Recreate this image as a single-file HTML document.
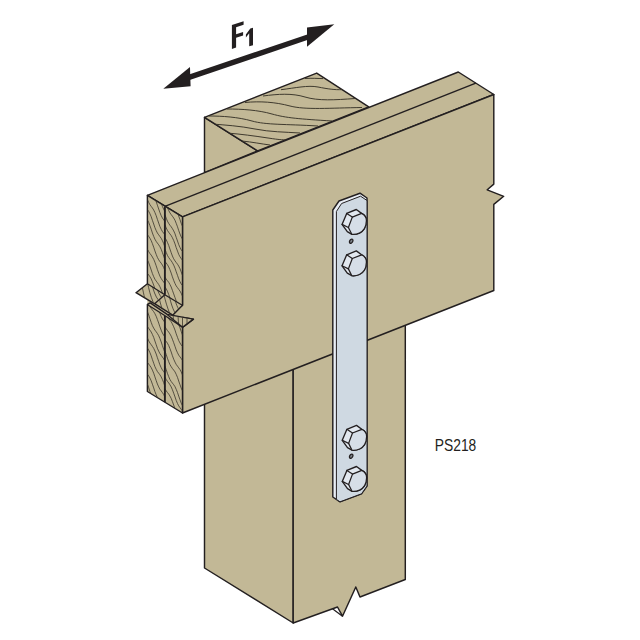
<!DOCTYPE html>
<html>
<head>
<meta charset="utf-8">
<title>PS218</title>
<style>
html,body{margin:0;padding:0;background:#fff;}
body{width:640px;height:640px;overflow:hidden;font-family:"Liberation Sans",sans-serif;}
svg{display:block;}
</style>
</head>
<body>
<svg width="640" height="640" viewBox="0 0 640 640">
<defs>
  <clipPath id="cpTop"><polygon points="204.5,117.3 316.7,73.1 368.7,106.8 257.6,150.9"/></clipPath>
  <clipPath id="cpU"><polygon points="147.4,195.3 182.5,216.9 182.5,305.3 164.8,294.7 147.4,283.8"/></clipPath>
  <clipPath id="cpL"><polygon points="148,305 165.5,316 182.5,327.3 182.5,413 147.4,391.5 147.4,304.5"/></clipPath>
  <clipPath id="cpFA"><polygon points="147.3,283.8 136,292.7 153,302.9 164.8,294.7"/></clipPath>
  <clipPath id="cpFB"><polygon points="164.8,294.7 154.6,303.7 172.7,315.2 182.3,305.3"/></clipPath>
  <clipPath id="cpFC"><polygon points="167.2,314.6 193.4,319.1 182.5,327.3"/></clipPath>
  <g id="bolt">
    <path d="M-2,-15.1 L3.3,-11.2 C6.5,-9.5 8.3,-6.8 8.1,-3.85 C8,-1 7.6,1.8 6.1,4 C4.8,6 3.2,7.6 1.1,8.5 C-1.2,9.5 -4,10 -6.5,9.7 L-11,7.1 L-16.25,-0.2 L-11.6,-11.2 Z" fill="#e2e8ef" stroke="#231f20" stroke-width="1.35" stroke-linejoin="round"/>
    <path d="M-6,-7.5 L3.3,-11.2 C6.5,-9.5 8.3,-6.8 8.1,-3.85 C8,-1 7.6,1.8 6.1,4 C4.8,6 3.2,7.6 1.1,8.5 C-1.2,9.5 -4,10 -6.5,9.7 L-9.9,2.9 Z" fill="#d6dee7" stroke="#231f20" stroke-width="1.25" stroke-linejoin="round"/>
    <path d="M-11.6,-11.2 L-6,-7.5 M-16.25,-0.2 L-9.9,2.9" fill="none" stroke="#231f20" stroke-width="1.2" stroke-linecap="round"/>
  </g>
  <g id="hole">
    <ellipse cx="0" cy="0" rx="1.5" ry="2.3" transform="rotate(32)" fill="#7d838a" stroke="#231f20" stroke-width="1.3"/>
  </g>
</defs>
<rect width="640" height="640" fill="#ffffff"/>

<!-- POST upper (behind beam) -->
<g stroke="#231f20" stroke-width="1.45" stroke-linejoin="round" fill="#c2b896">
  <polygon points="204.5,117.3 257.6,150.9 204.5,172.6"/>
  <polygon points="204.5,117.3 316.7,73.1 368.7,106.8 257.6,150.9"/>
</g>
<g clip-path="url(#cpTop)" fill="none" stroke="#3f3a2e" stroke-width="1">
  <path d="M305,78.5 C312,78 318,78.5 323,78.6"/>
  <path d="M281,89.7 C295,88 308,85 318,87 S335,90 342,89.6"/>
  <path d="M263,96 C278,94 292,93 305,97 S335,100 355,98.5"/>
  <path d="M245,102.5 C260,101 275,102 290,106 S330,108 362,107.5"/>
  <path d="M227,109 C242,109 258,110 272,114 S300,119 332,121"/>
  <path d="M209,116 C222,116 238,117 252,121 S285,124 318,126"/>
  <path d="M212,124 C225,125 240,126 255,129 S285,132 300,133"/>
  <path d="M227,133 C240,134 255,136 268,138 S280,139.5 288,140"/>
  <path d="M242,141 C252,142 262,144 270,145"/>
</g>

<!-- POST lower -->
<g stroke="#231f20" stroke-width="1.45" stroke-linejoin="round" fill="#c2b896">
  <polygon points="204.5,400 293.2,360 293.2,623 204.5,568"/>
  <polygon points="293.2,360 405.3,320 405.3,579.5 360,597 355.8,587 342.5,616.2 337.5,607 293.2,623"/>
</g>

<polyline points="332.5,608.8 342.5,616.2" fill="none" stroke="#231f20" stroke-width="1.3"/>
<!-- BEAM -->
<g stroke="#231f20" stroke-width="1.45" stroke-linejoin="round" fill="#c2b896">
  <polygon points="147.4,195.3 458.3,72 493.8,94.5 182.5,216.9"/>
  <polygon points="182.5,216.9 493.8,94.5 493.8,184.1 487.2,189.8 503.7,196.3 493.8,204.4 493.8,290.5 182.5,413 182.5,327.3 193.4,319.1 167.2,314.9 172.7,315.2 182.5,305.3"/>
  <line x1="164.9" y1="206.4" x2="475.8" y2="83.2"/>
</g>
<!-- end grain faces -->
<polygon points="147.4,283.8 182.5,305.3 182.5,327.3 147.4,304.5" fill="#c2b896"/>
<g stroke="#231f20" stroke-width="1.45" stroke-linejoin="round" fill="#c2b896">
  <polygon points="147.4,304.5 150.2,302.9 167.2,314.4 193.4,319.1 182.5,327.3 182.5,413 147.4,391.5"/>
  <polygon points="147.4,195.3 182.5,216.9 182.5,305.3 172.7,315.2 154.6,303.7 153,302.9 136,292.7 147.4,283.8"/>
</g>
<g clip-path="url(#cpU)" fill="none" stroke="#3a352b" stroke-width="0.8">
  <path d="M147.4,116.5 L148.7,118.5 L149.9,120.1 L151.2,121.9 L152.4,124.1 L153.7,126.9 L154.9,130.3 L156.2,134.1 L157.4,137.7 L158.7,140.9 L159.9,143.4 L161.2,145.3 L162.4,147.0 L163.7,148.7 L164.9,150.9"/>
  <path d="M164.9,157.0 L166.2,159.9 L167.4,162.2 L168.7,164.0 L169.9,165.6 L171.2,167.4 L172.4,169.7 L173.7,172.7 L175.0,176.3 L176.2,179.9 L177.5,183.4 L178.7,186.3 L180.0,188.6 L181.2,190.4 L182.5,192.0"/>
  <path d="M147.4,125.4 L148.7,127.2 L149.9,129.5 L151.2,132.4 L152.4,135.9 L153.7,139.6 L154.9,143.2 L156.2,146.3 L157.4,148.7 L158.7,150.6 L159.9,152.3 L161.2,154.1 L162.4,156.3 L163.7,159.3 L164.9,162.7"/>
  <path d="M164.9,165.3 L166.2,167.0 L167.4,168.6 L168.7,170.5 L169.9,172.9 L171.2,176.0 L172.4,179.5 L173.7,183.2 L175.0,186.6 L176.2,189.5 L177.5,191.7 L178.7,193.4 L180.0,195.0 L181.2,196.8 L182.5,199.3"/>
  <path d="M147.4,138.7 L148.7,142.3 L149.9,145.4 L151.2,147.8 L152.4,149.7 L153.7,151.4 L154.9,153.2 L156.2,155.4 L157.4,158.4 L158.7,161.9 L159.9,165.6 L161.2,169.2 L162.4,172.3 L163.7,174.7 L164.9,176.6"/>
  <path d="M164.9,177.3 L166.2,178.9 L167.4,180.6 L168.7,182.8 L169.9,185.7 L171.2,189.1 L172.4,192.8 L173.7,196.4 L175.0,199.4 L176.2,201.8 L177.5,203.6 L178.7,205.2 L180.0,207.0 L181.2,209.2 L182.5,212.1"/>
  <path d="M147.4,150.0 L148.7,151.6 L149.9,153.4 L151.2,155.6 L152.4,158.4 L153.7,161.8 L154.9,165.6 L156.2,169.2 L157.4,172.4 L158.7,174.9 L159.9,176.8 L161.2,178.5 L162.4,180.2 L163.7,182.4 L164.9,185.3"/>
  <path d="M164.9,186.2 L166.2,189.6 L167.4,193.3 L168.7,196.8 L169.9,199.9 L171.2,202.4 L172.4,204.2 L173.7,205.8 L175.0,207.6 L176.2,209.7 L177.5,212.6 L178.7,216.0 L180.0,219.7 L181.2,223.3 L182.5,226.3"/>
  <path d="M147.4,159.4 L148.7,161.6 L149.9,164.4 L151.2,167.9 L152.4,171.6 L153.7,175.2 L154.9,178.4 L156.2,180.9 L157.4,182.8 L158.7,184.5 L159.9,186.2 L161.2,188.5 L162.4,191.3 L163.7,194.8 L164.9,198.5"/>
  <path d="M164.9,200.3 L166.2,204.0 L167.4,207.5 L168.7,210.5 L169.9,212.8 L171.2,214.6 L172.4,216.2 L173.7,218.0 L175.0,220.3 L176.2,223.3 L177.5,226.8 L178.7,230.5 L180.0,234.0 L181.2,236.9 L182.5,239.2"/>
  <path d="M147.4,172.4 L148.7,176.1 L149.9,179.6 L151.2,182.4 L152.4,184.6 L153.7,186.4 L154.9,188.0 L156.2,190.0 L157.4,192.5 L158.7,195.7 L159.9,199.3 L161.2,203.0 L162.4,206.4 L163.7,209.3 L164.9,211.5"/>
  <path d="M164.9,214.6 L166.2,218.1 L167.4,221.1 L168.7,223.4 L169.9,225.2 L171.2,226.8 L172.4,228.6 L173.7,230.9 L175.0,233.8 L176.2,237.3 L177.5,241.0 L178.7,244.5 L180.0,247.5 L181.2,249.8 L182.5,251.5"/>
  <path d="M147.4,185.7 L148.7,188.7 L149.9,191.1 L151.2,193.0 L152.4,194.6 L153.7,196.4 L154.9,198.7 L156.2,201.7 L157.4,205.2 L158.7,209.0 L159.9,212.5 L161.2,215.6 L162.4,218.0 L163.7,219.8 L164.9,221.5"/>
  <path d="M164.9,224.7 L166.2,227.9 L167.4,230.4 L168.7,232.3 L169.9,233.9 L171.2,235.6 L172.4,237.7 L173.7,240.5 L175.0,243.9 L176.2,247.6 L177.5,251.1 L178.7,254.3 L180.0,256.8 L181.2,258.6 L182.5,260.2"/>
  <path d="M147.4,199.6 L148.7,202.4 L149.9,204.6 L151.2,206.4 L152.4,208.0 L153.7,210.0 L154.9,212.5 L156.2,215.7 L157.4,219.4 L158.7,223.1 L159.9,226.5 L161.2,229.3 L162.4,231.5 L163.7,233.2 L164.9,234.9"/>
  <path d="M164.9,237.8 L166.2,239.7 L167.4,242.3 L168.7,245.4 L169.9,249.0 L171.2,252.7 L172.4,256.0 L173.7,258.8 L175.0,260.9 L176.2,262.5 L177.5,264.2 L178.7,266.1 L180.0,268.7 L181.2,271.9 L182.5,275.5"/>
  <path d="M147.4,209.6 L148.7,211.4 L149.9,213.7 L151.2,216.7 L152.4,220.3 L153.7,224.0 L154.9,227.6 L156.2,230.6 L157.4,233.0 L158.7,234.8 L159.9,236.5 L161.2,238.3 L162.4,240.6 L163.7,243.6 L164.9,247.1"/>
  <path d="M164.9,249.0 L166.2,252.4 L167.4,255.3 L168.7,257.5 L169.9,259.2 L171.2,260.8 L172.4,262.7 L173.7,265.1 L175.0,268.2 L176.2,271.7 L177.5,275.4 L178.7,278.8 L180.0,281.7 L181.2,283.9 L182.5,285.6"/>
  <path d="M147.4,219.9 L148.7,222.4 L149.9,225.6 L151.2,229.2 L152.4,233.0 L153.7,236.4 L154.9,239.2 L156.2,241.4 L157.4,243.1 L158.7,244.8 L159.9,246.7 L161.2,249.3 L162.4,252.5 L163.7,256.1 L164.9,259.8"/>
  <path d="M164.9,261.4 L166.2,263.0 L167.4,264.7 L168.7,266.9 L169.9,269.7 L171.2,273.1 L172.4,276.8 L173.7,280.4 L175.0,283.5 L176.2,285.9 L177.5,287.7 L178.7,289.3 L180.0,291.1 L181.2,293.3 L182.5,296.2"/>
  <path d="M147.4,234.7 L148.7,236.4 L149.9,238.2 L151.2,240.6 L152.4,243.6 L153.7,247.2 L154.9,250.9 L156.2,254.4 L157.4,257.4 L158.7,259.8 L159.9,261.6 L161.2,263.2 L162.4,265.1 L163.7,267.5 L164.9,270.5"/>
  <path d="M164.9,277.0 L166.2,279.1 L167.4,280.7 L168.7,282.3 L169.9,284.4 L171.2,287.0 L172.4,290.3 L173.7,293.9 L175.0,297.6 L176.2,300.8 L177.5,303.4 L178.7,305.4 L180.0,307.0 L181.2,308.7 L182.5,310.7"/>
  <path d="M147.4,249.2 L148.7,251.6 L149.9,253.5 L151.2,255.1 L152.4,257.0 L153.7,259.3 L154.9,262.2 L156.2,265.8 L157.4,269.5 L158.7,273.1 L159.9,276.1 L161.2,278.5 L162.4,280.4 L163.7,282.0 L164.9,283.8"/>
  <path d="M164.9,286.9 L166.2,288.8 L167.4,291.2 L168.7,294.4 L169.9,297.9 L171.2,301.6 L172.4,305.0 L173.7,307.8 L175.0,309.9 L176.2,311.6 L177.5,313.2 L178.7,315.1 L180.0,317.6 L181.2,320.8 L182.5,324.4"/>
  <path d="M147.4,259.9 L148.7,262.7 L149.9,266.2 L151.2,269.9 L152.4,273.5 L153.7,276.7 L154.9,279.2 L156.2,281.1 L157.4,282.7 L158.7,284.5 L159.9,286.7 L161.2,289.6 L162.4,293.1 L163.7,296.8 L164.9,300.4"/>
  <path d="M164.9,305.1 L166.2,307.2 L167.4,308.9 L168.7,310.5 L169.9,312.4 L171.2,315.0 L172.4,318.2 L173.7,321.9 L175.0,325.5 L176.2,328.8 L177.5,331.5 L178.7,333.5 L180.0,335.2 L181.2,336.8 L182.5,338.8"/>
  <path d="M147.4,273.3 L148.7,275.0 L149.9,276.7 L151.2,278.9 L152.4,281.7 L153.7,285.1 L154.9,288.8 L156.2,292.5 L157.4,295.7 L158.7,298.2 L159.9,300.2 L161.2,301.9 L162.4,303.6 L163.7,305.8 L164.9,308.6"/>
  <path d="M164.9,309.4 L166.2,312.4 L167.4,316.0 L168.7,319.6 L169.9,323.1 L171.2,326.0 L172.4,328.3 L173.7,330.0 L175.0,331.6 L176.2,333.4 L177.5,335.8 L178.7,338.9 L180.0,342.4 L181.2,346.1 L182.5,349.5"/>
  <path d="M147.4,285.4 L148.7,289.0 L149.9,292.0 L151.2,294.5 L152.4,296.3 L153.7,298.0 L154.9,299.8 L156.2,302.1 L157.4,305.0 L158.7,308.5 L159.9,312.3 L161.2,315.8 L162.4,318.9 L163.7,321.3 L164.9,323.2"/>
  <path d="M164.9,324.5 L166.2,327.0 L167.4,330.1 L168.7,333.6 L169.9,337.3 L171.2,340.7 L172.4,343.5 L173.7,345.7 L175.0,347.4 L176.2,349.0 L177.5,350.9 L178.7,353.4 L180.0,356.5 L181.2,360.1 L182.5,363.8"/>
  <path d="M147.4,296.6 L148.7,300.2 L149.9,303.9 L151.2,307.3 L152.4,310.2 L153.7,312.4 L154.9,314.1 L156.2,315.8 L157.4,317.7 L158.7,320.3 L159.9,323.4 L161.2,327.1 L162.4,330.8 L163.7,334.2 L164.9,337.1"/>
  <path d="M164.9,340.1 L166.2,342.1 L167.4,343.7 L168.7,345.3 L169.9,347.4 L171.2,350.2 L172.4,353.5 L173.7,357.2 L175.0,360.8 L176.2,364.0 L177.5,366.5 L178.7,368.4 L180.0,370.0 L181.2,371.7 L182.5,373.8"/>
</g>
<g clip-path="url(#cpL)" fill="none" stroke="#3a352b" stroke-width="0.8">
  <path d="M147.4,219.2 L148.7,221.2 L149.9,223.7 L151.2,226.9 L152.4,230.5 L153.7,234.3 L154.9,237.7 L156.2,240.5 L157.4,242.7 L158.7,244.4 L159.9,246.1 L161.2,248.0 L162.4,250.6 L163.7,253.8 L164.9,257.4"/>
  <path d="M164.9,261.8 L166.2,263.4 L167.4,265.2 L168.7,267.6 L169.9,270.6 L171.2,274.1 L172.4,277.8 L173.7,281.3 L175.0,284.2 L176.2,286.4 L177.5,288.2 L178.7,289.8 L180.0,291.6 L181.2,294.0 L182.5,297.0"/>
  <path d="M147.4,234.6 L148.7,236.2 L149.9,238.1 L151.2,240.7 L152.4,243.8 L153.7,247.4 L154.9,251.2 L156.2,254.6 L157.4,257.5 L158.7,259.7 L159.9,261.4 L161.2,263.1 L162.4,265.0 L163.7,267.5 L164.9,270.7"/>
  <path d="M164.9,271.1 L166.2,273.5 L167.4,276.5 L168.7,280.1 L169.9,283.8 L171.2,287.2 L172.4,290.1 L173.7,292.3 L175.0,294.0 L176.2,295.6 L177.5,297.4 L178.7,299.9 L180.0,303.0 L181.2,306.5 L182.5,310.2"/>
  <path d="M147.4,246.2 L148.7,248.6 L149.9,251.6 L151.2,255.1 L152.4,258.8 L153.7,262.4 L154.9,265.4 L156.2,267.8 L157.4,269.6 L158.7,271.3 L159.9,273.1 L161.2,275.4 L162.4,278.4 L163.7,282.0 L164.9,285.7"/>
  <path d="M164.9,288.8 L166.2,292.5 L167.4,295.7 L168.7,298.4 L169.9,300.5 L171.2,302.1 L172.4,303.7 L173.7,305.7 L175.0,308.4 L176.2,311.6 L177.5,315.3 L178.7,318.9 L180.0,322.2 L181.2,324.8 L182.5,326.8"/>
  <path d="M147.4,260.3 L148.7,262.1 L149.9,263.7 L151.2,265.7 L152.4,268.3 L153.7,271.5 L154.9,275.2 L156.2,278.9 L157.4,282.3 L158.7,285.1 L159.9,287.2 L161.2,288.9 L162.4,290.6 L163.7,292.6 L164.9,295.2"/>
  <path d="M164.9,295.8 L166.2,298.3 L167.4,301.4 L168.7,304.9 L169.9,308.6 L171.2,312.0 L172.4,314.8 L173.7,317.0 L175.0,318.7 L176.2,320.3 L177.5,322.2 L178.7,324.7 L180.0,327.8 L181.2,331.4 L182.5,335.1"/>
  <path d="M147.4,273.0 L148.7,275.9 L149.9,278.2 L151.2,280.0 L152.4,281.6 L153.7,283.5 L154.9,286.0 L156.2,289.1 L157.4,292.7 L158.7,296.5 L159.9,299.9 L161.2,302.8 L162.4,305.1 L163.7,306.8 L164.9,308.5"/>
  <path d="M164.9,310.9 L166.2,314.1 L167.4,316.6 L168.7,318.6 L169.9,320.2 L171.2,321.8 L172.4,324.0 L173.7,326.8 L175.0,330.1 L176.2,333.8 L177.5,337.4 L178.7,340.5 L180.0,343.0 L181.2,344.9 L182.5,346.5"/>
  <path d="M147.4,286.4 L148.7,289.5 L149.9,292.0 L151.2,293.9 L152.4,295.6 L153.7,297.3 L154.9,299.6 L156.2,302.5 L157.4,305.9 L158.7,309.6 L159.9,313.3 L161.2,316.4 L162.4,318.9 L163.7,320.8 L164.9,322.5"/>
  <path d="M164.9,326.4 L166.2,328.7 L167.4,330.5 L168.7,332.1 L169.9,333.9 L171.2,336.2 L172.4,339.2 L173.7,342.7 L175.0,346.4 L176.2,349.9 L177.5,352.8 L178.7,355.1 L180.0,356.9 L181.2,358.5 L182.5,360.3"/>
  <path d="M147.4,300.0 L148.7,303.4 L149.9,306.2 L151.2,308.4 L152.4,310.1 L153.7,311.7 L154.9,313.7 L156.2,316.3 L157.4,319.5 L158.7,323.1 L159.9,326.8 L161.2,330.2 L162.4,333.0 L163.7,335.2 L164.9,337.0"/>
  <path d="M164.9,339.9 L166.2,341.4 L167.4,343.2 L168.7,345.5 L169.9,348.5 L171.2,352.0 L172.4,355.7 L173.7,359.2 L175.0,362.1 L176.2,364.4 L177.5,366.2 L178.7,367.8 L180.0,369.6 L181.2,371.9 L182.5,375.0"/>
  <path d="M147.4,311.6 L148.7,315.0 L149.9,318.7 L151.2,322.4 L152.4,325.6 L153.7,328.1 L154.9,330.1 L156.2,331.8 L157.4,333.5 L158.7,335.7 L159.9,338.5 L161.2,341.9 L162.4,345.6 L163.7,349.3 L164.9,352.5"/>
  <path d="M164.9,351.0 L166.2,354.5 L167.4,358.2 L168.7,361.7 L169.9,364.5 L171.2,366.7 L172.4,368.5 L173.7,370.1 L175.0,371.9 L176.2,374.3 L177.5,377.4 L178.7,381.0 L180.0,384.7 L181.2,388.1 L182.5,390.9"/>
  <path d="M147.4,326.6 L148.7,328.4 L149.9,330.1 L151.2,332.0 L152.4,334.4 L153.7,337.4 L154.9,341.0 L156.2,344.7 L157.4,348.3 L158.7,351.2 L159.9,353.5 L161.2,355.3 L162.4,357.0 L163.7,358.8 L164.9,361.3"/>
  <path d="M164.9,366.0 L166.2,369.6 L167.4,373.3 L168.7,376.6 L169.9,379.4 L171.2,381.5 L172.4,383.1 L173.7,384.7 L175.0,386.7 L176.2,389.3 L177.5,392.5 L178.7,396.1 L180.0,399.8 L181.2,403.1 L182.5,405.8"/>
  <path d="M147.4,337.9 L148.7,340.8 L149.9,343.0 L151.2,344.7 L152.4,346.4 L153.7,348.3 L154.9,350.9 L156.2,354.0 L157.4,357.7 L158.7,361.4 L159.9,364.8 L161.2,367.7 L162.4,369.9 L163.7,371.6 L164.9,373.3"/>
  <path d="M164.9,377.0 L166.2,379.5 L167.4,381.3 L168.7,382.9 L169.9,384.7 L171.2,386.9 L172.4,389.7 L173.7,393.2 L175.0,396.9 L176.2,400.4 L177.5,403.5 L178.7,405.8 L180.0,407.7 L181.2,409.3 L182.5,411.0"/>
  <path d="M147.4,348.0 L148.7,350.0 L149.9,352.6 L151.2,355.8 L152.4,359.5 L153.7,363.2 L154.9,366.6 L156.2,369.3 L157.4,371.5 L158.7,373.2 L159.9,374.8 L161.2,376.9 L162.4,379.5 L163.7,382.7 L164.9,386.4"/>
  <path d="M164.9,388.6 L166.2,390.8 L167.4,392.5 L168.7,394.1 L169.9,396.0 L171.2,398.4 L172.4,401.5 L173.7,405.0 L175.0,408.7 L176.2,412.1 L177.5,415.0 L178.7,417.2 L180.0,418.9 L181.2,420.5 L182.5,422.4"/>
  <path d="M147.4,362.3 L148.7,364.1 L149.9,365.7 L151.2,367.6 L152.4,370.1 L153.7,373.2 L154.9,376.8 L156.2,380.6 L157.4,384.0 L158.7,386.9 L159.9,389.2 L161.2,390.9 L162.4,392.6 L163.7,394.5 L164.9,397.0"/>
  <path d="M164.9,402.2 L166.2,404.0 L167.4,406.4 L168.7,409.5 L169.9,413.1 L171.2,416.8 L172.4,420.2 L173.7,423.0 L175.0,425.2 L176.2,426.9 L177.5,428.5 L178.7,430.4 L180.0,432.9 L181.2,436.0 L182.5,439.5"/>
  <path d="M147.4,374.1 L148.7,375.9 L149.9,378.0 L151.2,380.8 L152.4,384.2 L153.7,387.9 L154.9,391.6 L156.2,394.8 L157.4,397.4 L158.7,399.4 L159.9,401.0 L161.2,402.7 L162.4,404.9 L163.7,407.7 L164.9,411.1"/>
  <path d="M164.9,413.9 L166.2,416.0 L167.4,418.7 L168.7,422.1 L169.9,425.8 L171.2,429.4 L172.4,432.5 L173.7,435.0 L175.0,436.9 L176.2,438.5 L177.5,440.2 L178.7,442.4 L180.0,445.2 L181.2,448.6 L182.5,452.2"/>
  <path d="M147.4,384.0 L148.7,387.7 L149.9,391.4 L151.2,394.7 L152.4,397.4 L153.7,399.5 L154.9,401.2 L156.2,402.8 L157.4,404.9 L158.7,407.6 L159.9,410.9 L161.2,414.6 L162.4,418.3 L163.7,421.6 L164.9,424.3"/>
  <path d="M164.9,424.8 L166.2,428.0 L167.4,431.6 L168.7,435.3 L169.9,438.6 L171.2,441.4 L172.4,443.5 L173.7,445.2 L175.0,446.8 L176.2,448.7 L177.5,451.3 L178.7,454.4 L180.0,458.1 L181.2,461.7 L182.5,465.0"/>
  <path d="M147.4,399.8 L148.7,401.5 L149.9,403.2 L151.2,405.2 L152.4,407.8 L153.7,411.1 L154.9,414.8 L156.2,418.5 L157.4,421.8 L158.7,424.5 L159.9,426.7 L161.2,428.4 L162.4,430.0 L163.7,432.1 L164.9,434.7"/>
  <path d="M164.9,438.1 L166.2,439.8 L167.4,441.4 L168.7,443.4 L169.9,446.1 L171.2,449.3 L172.4,453.0 L173.7,456.6 L175.0,459.9 L176.2,462.5 L177.5,464.5 L178.7,466.1 L180.0,467.8 L181.2,469.8 L182.5,472.5"/>
  <path d="M147.4,412.4 L148.7,415.9 L149.9,418.8 L151.2,421.1 L152.4,422.9 L153.7,424.5 L154.9,426.4 L156.2,428.9 L157.4,432.0 L158.7,435.5 L159.9,439.3 L161.2,442.8 L162.4,445.7 L163.7,448.0 L164.9,449.8"/>
  <path d="M164.9,451.3 L166.2,454.7 L167.4,457.6 L168.7,459.8 L169.9,461.5 L171.2,463.1 L172.4,464.9 L173.7,467.4 L175.0,470.5 L176.2,474.1 L177.5,477.7 L178.7,481.1 L180.0,483.9 L181.2,486.1 L182.5,487.8"/>
</g>
<g clip-path="url(#cpFA)" fill="none" stroke="#3a352b" stroke-width="0.8">
  <path d="M142,286 C143,290 143.5,294 145,299"/>
  <path d="M147.5,283 C149,289 150,295 153.5,303"/>
  <path d="M152,285 C153.5,290 155,296 159,301"/>
  <path d="M157,288 C158,292 159.5,295 162,298"/>
</g>
<g clip-path="url(#cpFB)" fill="none" stroke="#3a352b" stroke-width="0.8">
  <path d="M159,297 C160,302 161,306 163,311"/>
  <path d="M164,295 C165.5,301 167,307 170,314"/>
  <path d="M169.5,297 C171,303 172,307 175,313"/>
  <path d="M175,300 C176,304 177.5,307 179,310"/>
</g>
<g clip-path="url(#cpFC)" fill="none" stroke="#3a352b" stroke-width="0.8">
  <path d="M173,314 C173.3,318 173.5,321 174,325"/>
  <path d="M178,315 C178.2,319 178.5,323 179,328"/>
  <path d="M182.5,316 C182.5,320 182.5,324 182.5,328"/>
  <path d="M187,317 C187,320 187,322 187,325"/>
</g>
<g stroke="#231f20" stroke-width="1.3" fill="none" stroke-linejoin="round">
  <line x1="164.9" y1="206.4" x2="164.9" y2="294.7" stroke-width="1.9"/>
  <line x1="164.9" y1="316" x2="164.9" y2="402.2" stroke-width="1.9"/>
  <polyline points="147.4,283.8 164.8,294.7 182.3,305.3"/>
  <polyline points="164.8,294.7 154.6,303.7"/>
  <polyline points="147.6,304.8 165.5,316 182.5,327.3"/>
  <polyline points="167.2,314.4 182.5,327.3"/>
</g>

<!-- STRAP -->
<g stroke="#231f20" stroke-width="1.45" stroke-linejoin="round">
  <polygon points="332.8,210 339,201 360,193.2 367,198 367,486 361.5,493.8 340,501.8 332.8,497" fill="#e9eef5"/>
  <polygon points="336.4,211.5 341.6,203.5 360.6,196.2 367,200.5 367,486 361.5,493.8 340,501.8 336.4,499.4" fill="#cfd9e2" stroke-width="1"/>
</g>
<use href="#bolt" x="358.3" y="224.6"/>
<use href="#hole" x="351.2" y="241.2"/>
<use href="#bolt" x="358.3" y="266"/>
<use href="#bolt" x="358.5" y="440.5"/>
<use href="#hole" x="351.2" y="456.2"/>
<use href="#bolt" x="358.5" y="481.6"/>

<!-- ARROW -->
<g fill="#231f20" stroke="none">
  <polygon points="163.3,88.8 190,67 190.6,86.2"/>
  <polygon points="334.3,24.2 307,27.5 307,46.8"/>
  <polygon points="189,74.6 308,34.2 308,39.8 189,80.2"/>
</g>
<g fill="#231f20" transform="translate(231.9,48.9)">
  <g transform="matrix(1,-0.32,0,1,0,0)">
    <polygon points="0,0 0,-23.9 11.7,-23.9 11.7,-20.3 4.2,-20.3 4.2,-13.4 11.2,-13.4 11.2,-9.9 4.2,-9.9 4.2,0"/>
    <polygon points="21.1,3 21.1,-14.4 18.4,-14.4 14,-10 14,-7 17.3,-10 17.3,3"/>
  </g>
</g>

<text x="434.8" y="451.2" font-family="Liberation Sans, sans-serif" font-size="16.6" fill="#231f20" textLength="41.5" lengthAdjust="spacingAndGlyphs">PS218</text>
</svg>
</body>
</html>
